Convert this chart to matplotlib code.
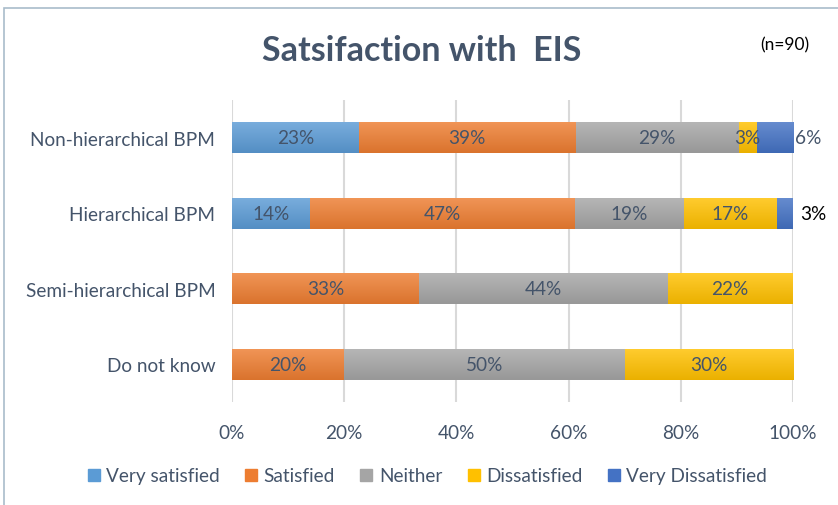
import matplotlib
matplotlib.use("Agg")
import matplotlib.pyplot as plt
import numpy as np
from matplotlib.colors import LinearSegmentedColormap, to_rgb
from matplotlib.patches import Rectangle
from matplotlib.lines import Line2D

plt.rcParams['font.family'] = ['Lato', 'DejaVu Sans']

categories = ["Non-hierarchical BPM", "Hierarchical BPM", "Semi-hierarchical BPM", "Do not know"]
series = ["Very satisfied", "Satisfied", "Neither", "Dissatisfied", "Very Dissatisfied"]
very_satisfied = [22.6, 13.9, 0.0, 0.0]
satisfied = [38.7, 47.2, 33.3, 20.0]
neither = [29.0, 19.4, 44.4, 50.0]
dissatisfied = [3.2, 16.7, 22.2, 30.0]
very_dissatisfied = [6.5, 2.8, 0.0, 0.0]
ticks = [0, 20, 40, 60, 80, 100]
tick_labels = ["0%", "20%", "40%", "60%", "80%", "100%"]

colors = ["#5B9BD5", "#ED7D31", "#A5A5A5", "#FFC000", "#4472C4"]
text_col = "#44546A"
fs = 13.7

def shade(c, f):
    r = np.array(to_rgb(c))
    if f > 0:
        return tuple(r + (1 - r) * f)
    return tuple(r * (1 + f))

fig = plt.figure(figsize=(8.38, 5.06), dpi=100)
ax = fig.add_axes([232 / 838, 1 - 403 / 506, 561 / 838, 302 / 506])

values = [very_satisfied, satisfied, neither, dissatisfied, very_dissatisfied]
y = np.arange(len(categories))
left = np.zeros(len(categories))
h = 0.41
for i, (vals, col) in enumerate(zip(values, colors)):
    vals = np.array(vals)
    bars = ax.barh(y, vals, left=left, height=h, color=col, zorder=2)
    cmap = LinearSegmentedColormap.from_list("g", [shade(col, 0.18), shade(col, -0.08)])
    grad = np.linspace(0, 1, 64).reshape(-1, 1)
    for b, v in zip(bars, vals):
        if v <= 0:
            continue
        x0, y0, w, hh = b.get_x(), b.get_y(), b.get_width(), b.get_height()
        ax.imshow(grad, extent=(x0, x0 + w, y0 + hh, y0), cmap=cmap, aspect='auto',
                  zorder=3, interpolation='bilinear', origin='upper')
    left = left + vals

# value labels
left = np.zeros(len(categories))
for i, vals in enumerate(values):
    for j, v in enumerate(vals):
        if v <= 0:
            continue
        if i == 4 and j == 1:
            ax.text(100 + 1.3, j, f"{v:.0f}%", va='center', ha='left', fontsize=fs,
                    color='black', zorder=5)
        elif i == 4 and j == 0:
            ax.text(100 + 2.7, j, f"{v:.0f}%", va='center', ha='center', fontsize=fs,
                    color=text_col, zorder=5)
        else:
            ax.text(left[j] + v / 2, j, f"{v:.0f}%", va='center', ha='center', fontsize=fs,
                    color=text_col, zorder=5)
    left = left + np.array(vals)

ax.set_xlim(0, 100)
ax.set_ylim(3.5, -0.5)
ax.set_xticks(ticks)
ax.set_xticklabels(tick_labels, fontsize=fs, color=text_col)
ax.set_yticks(y)
ax.set_yticklabels(categories, fontsize=fs, color=text_col)
ax.tick_params(length=0, pad=12, axis='y')
ax.tick_params(length=0, pad=16, axis='x')
for s in ax.spines.values():
    s.set_visible(False)
ax.xaxis.grid(True, color="#D9D9D9", linewidth=1.5, zorder=0)
ax.set_axisbelow(True)
ax.set_facecolor('none')

fig.text(422 / 838, 1 - 51 / 506, "Satsifaction with  EIS", ha='center', va='center',
         fontsize=24.5, fontweight='bold', color=text_col)
fig.text(785 / 838, 1 - 45 / 506, "(n=90)", ha='center', va='center', fontsize=12.5, color='black')

handles = [Line2D([], [], marker='s', linestyle='none', markersize=8, markerfacecolor=c,
                  markeredgecolor=c) for c in colors]
fig.legend(handles, series, loc='center', bbox_to_anchor=(427 / 838, 1 - 477 / 506), ncol=5,
           frameon=False, fontsize=fs, handlelength=0.7, handletextpad=0.3,
           columnspacing=1.3, labelcolor=text_col)

fig.patches.append(Rectangle((4 / 838, -0.1), 2, 1.1 - 9 / 506, transform=fig.transFigure,
                             fill=False, edgecolor="#A9BCCB", linewidth=1.2))

fig.savefig("out.png", dpi=100)
